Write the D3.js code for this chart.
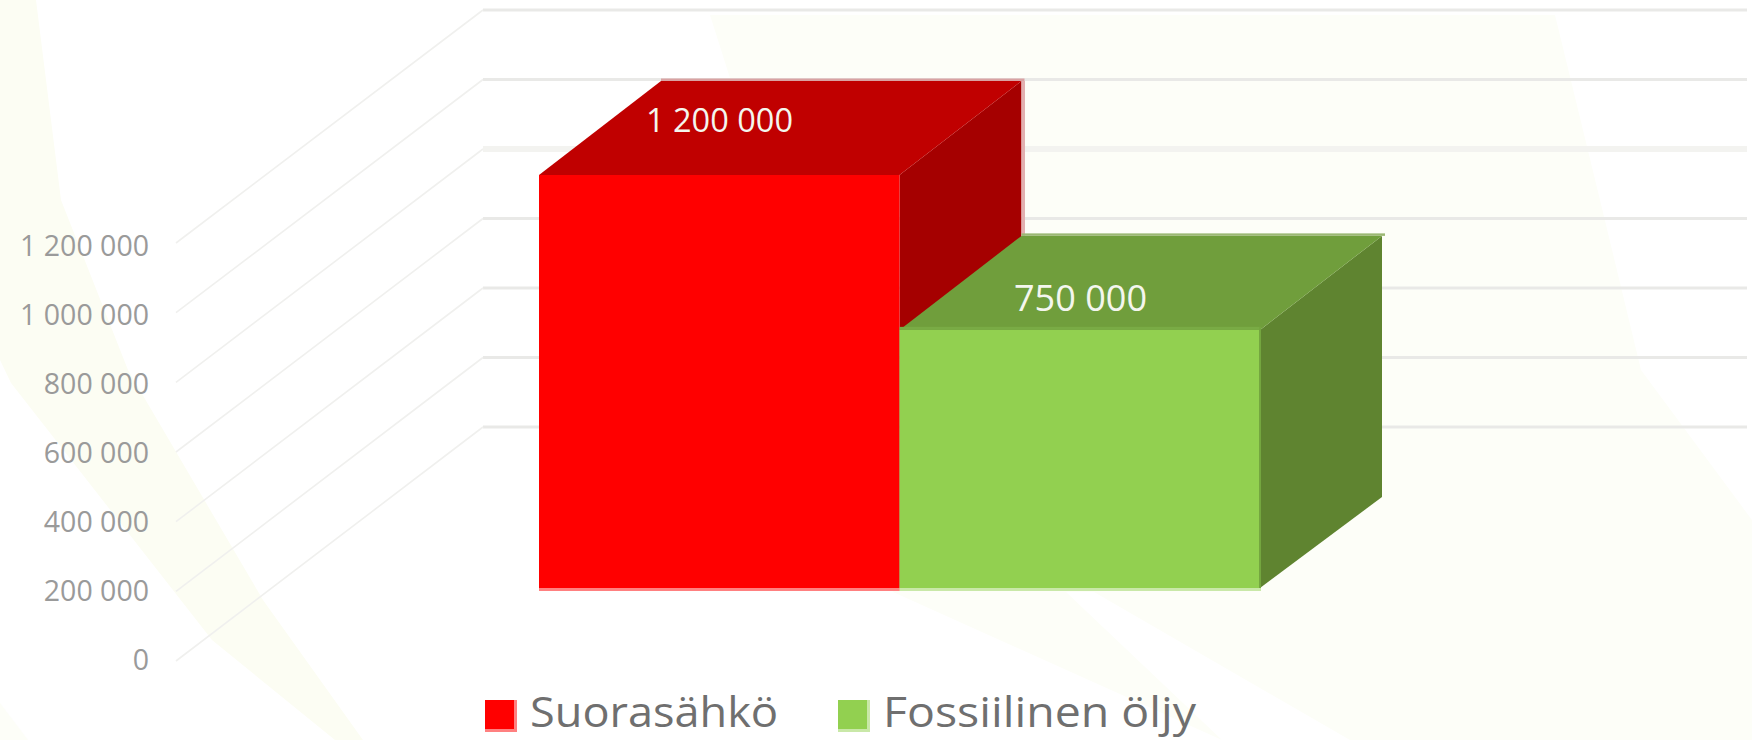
<!DOCTYPE html>
<html><head><meta charset="utf-8">
<script src="https://cdn.jsdelivr.net/npm/d3@7/dist/d3.min.js"></script>
<style>html,body{margin:0;padding:0;background:#fff;overflow:hidden}svg{display:block}text{font-family:"Open Sans",sans-serif}</style>
</head><body><svg id="c" width="1752" height="740"></svg>
<script>
const categories = ["Suorasähkö", "Fossiilinen öljy"];
const values = [1200000, 750000];
const valueLabels = ["1 200 000", "750 000"];
const axisTicks = [0, 200000, 400000, 600000, 800000, 1000000, 1200000];
const frontColors = ["#ff0000", "#92d050"];
const topColors = ["#c00000", "#709e3c"];
const sideColors = ["#a50000", "#5f8430"];
const backEdgeColors = ["#d9a3a3", "#9bb873"];
const bottomEdgeColors = ["#ff8080", "#c9e8a8"];
const legendX = [485, 838];
const legendTextWidth = [248, 313];
const labelSpec = [{x: 646, y: 132, s: 32.5}, {x: 1014, y: 311, s: 36}];

const svg = d3.select("#c");
const fmt = d3.formatLocale({decimal: ",", thousands: " ", grouping: [3], currency: ["", ""]}).format(",d");

// faint background swooshes
const bg = [
  {c: "#fdfef8", p: [[710,15],[1555,15],[1600,200],[1641,370],[1752,520],[1752,740],[1350,740],[1094,592],[1066,592],[1222,740],[893,592]]},
  {c: "#fcfdf3", p: [[0,0],[36,0],[61,200],[128,370],[263,600],[363,740],[335,740],[212,640],[11,383],[0,360]]},
  {c: "#fdfef8", p: [[0,703],[28,740],[0,740]]}
];
const ln = d3.line().curve(d3.curveLinearClosed);
svg.selectAll("path.bg").data(bg).join("path").attr("class","bg").attr("d",d=>ln(d.p)).attr("fill",d=>d.c);

// scales of the oblique 3-D frame
const domain = [0, 1200000];
const yWall = d3.scaleLinear().domain(domain).range([427, 10]);
const yFront = d3.scaleLinear().domain(domain).range([661, 243]);
const yTick = d3.scaleLinear().domain(domain).range([660, 246.5]);
const yBar = d3.scaleLinear().domain(domain).range([588, 175]);
const x = d3.scaleBand().domain(categories).range([539, 1260]).padding(0);
const depthX = 122, depthY = 94;
const wallLeft = 483, wallRight = 1747, frontLeft = 176;

const g = svg.append("g");
g.selectAll("line.grid").data(axisTicks).join("line").attr("class","grid")
  .attr("x1", wallLeft).attr("x2", wallRight)
  .attr("y1", d=>yWall(d)).attr("y2", d=>yWall(d))
  .attr("stroke", (d,i)=> i===4 ? "#f3f3f0" : "#e9e9e7").attr("stroke-width", (d,i)=> i===4 ? 6 : 3);
g.selectAll("line.slant").data(axisTicks).join("line").attr("class","slant")
  .attr("x1", frontLeft).attr("x2", wallLeft)
  .attr("y1", d=>yFront(d)).attr("y2", d=>yWall(d))
  .attr("stroke", "#f0f0ee").attr("stroke-width", 1.6);

// axis
const axis = svg.append("g").attr("transform","translate(150,0)")
  .call(d3.axisLeft(yTick).tickValues(axisTicks).tickFormat(fmt).tickSize(0).tickPadding(1));
axis.select(".domain").remove();
axis.selectAll("text").attr("font-size",28.5).attr("fill","#9a9a9a").attr("font-weight",400)
  .style("font-family",'"Open Sans",sans-serif');

// bars
const poly = pts => ln(pts);
const bars = svg.selectAll("g.bar").data(categories.map((c,i)=>({c,v:values[i],i}))).join("g").attr("class","bar");
bars.each(function(d){
  const s = d3.select(this), l = x(d.c), r = l + x.bandwidth(), t = yBar(d.v), b = yBar(0);
  s.append("path").attr("d", poly([[r,t],[r+depthX,t-depthY],[r+depthX,b-depthY+3],[r,b]])).attr("fill", sideColors[d.i]);
  s.append("path").attr("d", poly([[l,t],[l+depthX,t-depthY],[r+depthX,t-depthY],[r,t]])).attr("fill", topColors[d.i]);
  s.append("rect").attr("x",l+depthX).attr("y",t-depthY-2.5).attr("width",x.bandwidth()+3).attr("height",2.5).attr("fill",backEdgeColors[d.i]);
  s.append("rect").attr("x",l).attr("y",t).attr("width",x.bandwidth()).attr("height",b-t).attr("fill",frontColors[d.i]);
  s.append("rect").attr("x",l).attr("y",b).attr("width",x.bandwidth()+1).attr("height",3).attr("fill",bottomEdgeColors[d.i]);
  if(d.i===0){
    s.append("rect").attr("x",r+depthX).attr("y",t-depthY).attr("width",3.5).attr("height",159).attr("fill","#e3b0b0");
  } else {
    s.append("rect").attr("x",l).attr("y",t-3).attr("width",x.bandwidth()).attr("height",3).attr("fill","#79ab45");
    s.append("rect").attr("x",r-1).attr("y",t-3).attr("width",2).attr("height",b-t+3).attr("fill","#74a63f");
  }
});
svg.selectAll("text.val").data(valueLabels).join("text").attr("class","val")
  .attr("x",(d,i)=>labelSpec[i].x).attr("y",(d,i)=>labelSpec[i].y).attr("font-size",(d,i)=>labelSpec[i].s)
  .attr("fill","#f4f6ee").attr("font-weight",400)
  .attr("textLength",(d,i)=>[147,133][i]).attr("lengthAdjust","spacingAndGlyphs").text(d=>d);

// legend
const leg = svg.selectAll("g.leg").data(categories).join("g").attr("class","leg")
  .attr("transform",(d,i)=>`translate(${legendX[i]},700)`);
leg.append("rect").attr("width",32).attr("height",32).attr("fill",(d,i)=>bottomEdgeColors[i]);
leg.append("rect").attr("width",29).attr("height",29).attr("fill",(d,i)=>frontColors[i]);
leg.append("text").attr("x",45).attr("y",27).attr("font-size",42).attr("fill","#6f6f6f").attr("font-weight",400)
  .attr("textLength",(d,i)=>legendTextWidth[i]).attr("lengthAdjust","spacingAndGlyphs").text(d=>d);
</script></body></html>
